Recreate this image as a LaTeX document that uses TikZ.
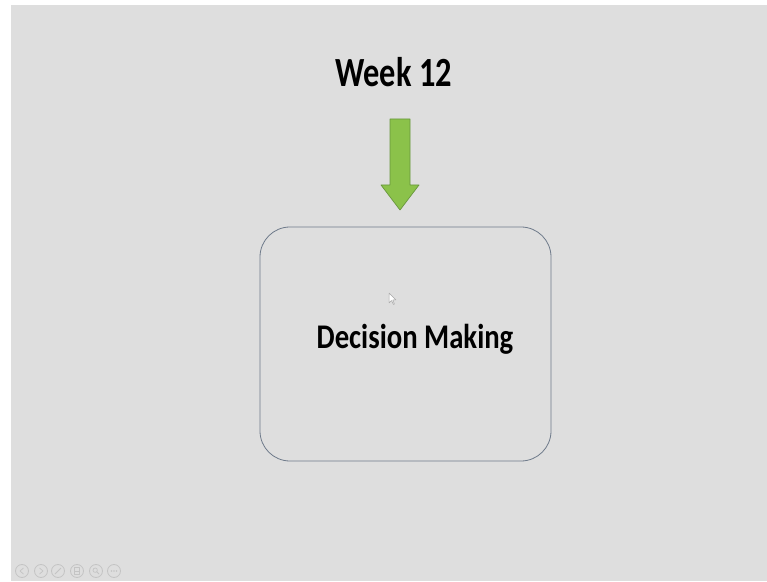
\documentclass[tikz,border=0pt]{standalone}
\usepackage{fontspec}
\setmainfont{Carlito}
\usetikzlibrary{positioning}
\definecolor{slidebg}{RGB}{222,222,222}
\definecolor{arrowgreen}{RGB}{139,194,74}
\definecolor{arrowedge}{RGB}{104,150,62}
\definecolor{boxedge}{RGB}{110,122,138}
\definecolor{iconline}{RGB}{196,196,196}
\tikzset{
    title/.style={font=\bfseries, inner sep=0pt, transform shape},
    navicon/.style={draw=iconline, line width=.8pt, circle, minimum size=13pt, inner sep=0pt}
}

\begin{document}
\begin{tikzpicture}[x=1pt, y=1pt, line join=round]
    \useasboundingbox (0,0) rectangle (767,581);
    \fill[white](0,0) rectangle (767,581);
    \fill[slidebg](11,0) rectangle (767,576);

    % heading and arrow
    \node[title, anchor=base, xscale=.78, font=\bfseries\fontsize{41.5}{45}\selectfont]
        (week) at (393.7,494.3) {Week 12};
    \coordinate (arrowtop) at (400,462);
    \coordinate (arrowtip) at (400,371);
    \draw[arrowedge, fill=arrowgreen, line width=.7pt]
        (arrowtop) ++(-10,0) -- ++(20,0) -- ++(0,-66) -- ++(9,0)
        -- (arrowtip) -- ++(-19,25) -- ++(9,0) -- cycle;

    % box
    \node[draw=boxedge, line width=.8pt, rounded corners=30pt,
          minimum width=291pt, minimum height=234pt] (decision) at (405.5,237) {};
    \node[title, anchor=base, xscale=.83, font=\bfseries\fontsize{34.6}{38}\selectfont]
        (making) at (415,232.7) {Decision Making};

    % mouse pointer
    \draw[gray!70, line width=.5pt, fill=white]
        (389,288) -- (389,278) -- (391.5,280.5) -- (393.5,276.5) -- (394.5,277)
        -- (392.8,281) -- (396,281) -- cycle;

    % slide show controls
    \foreach \x/\n in {22/prev, 41/next, 58/pen, 77/slides, 96/zoom, 114/more}
    {
        \node[navicon] (\n) at (\x,10) {};
    }
    \draw[iconline, line width=.7pt] (prev.center) ++(1.5,3) -- ++(-3.5,-3) -- ++(3.5,-3);
    \draw[iconline, line width=.7pt] (next.center) ++(-1.5,3) -- ++(3.5,-3) -- ++(-3.5,-3);
    \draw[iconline, line width=1pt] (pen.center) ++(-3,-3) -- ++(6,6);
    \draw[iconline, line width=.7pt] (slides.center) ++(-2.5,-3.5) rectangle ++(5,7);
    \draw[iconline, line width=.7pt] (slides.center) ++(-2.5,0) -- ++(5,0);
    \draw[iconline, line width=.7pt] (zoom.center) ++(-.8,.8) circle (2.2pt);
    \draw[iconline, line width=.9pt] (zoom.center) ++(.8,-.8) -- ++(2.2,-2.2);
    \foreach \d in {-2.5,0,2.5}
    {
        \fill[iconline] (more.center) ++(\d,0) circle (.9pt);
    }
\end{tikzpicture}
\end{document}
